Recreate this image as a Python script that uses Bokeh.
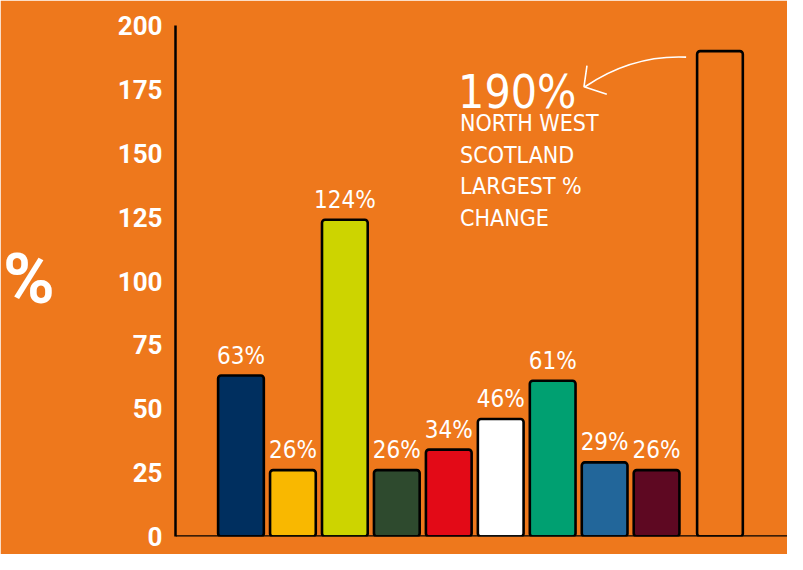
import numpy as np
from bokeh.plotting import figure
from bokeh.models import Range1d, Span, Label, FixedTicker, ColumnDataSource
from bokeh.core.properties import value
from bokeh.embed import file_html
from bokeh.resources import INLINE

# ---- data ----
regions = ["Region 1", "Region 2", "Region 3", "Region 4", "Region 5",
           "Region 6", "Region 7", "Region 8", "Region 9", "North West Scotland"]
changes = [63, 26, 124, 26, 34, 46, 61, 29, 26, 190]
value_labels = ["63%", "26%", "124%", "26%", "34%", "46%", "61%", "29%", "26%", ""]
bar_colors = ["#002F5F", "#F9B800", "#CDD400", "#2E4A2E", "#E30A17",
              "#FFFFFF", "#00A071", "#22669A", "#5E0822", "#EE781C"]
y_ticks = [0, 25, 50, 75, 100, 125, 150, 175, 200]
callout_value = "190%"
callout_lines = ["NORTH WEST", "SCOTLAND", "LARGEST %", "CHANGE"]

BG = "#EE781C"
HAND = "DejaVu Sans Condensed"
W, H = 787, 554
LEFT, TOP = 170, 20
FRAME_W, FRAME_H = W - LEFT, 516
X0, X1 = -1.26, 10.52
Y0, Y1 = 0, 202

# bar positions: evenly spaced, with an extra gap before the highlighted bar
xpos = np.arange(len(changes), dtype=float)
xpos[-1] += 0.22

src = ColumnDataSource(dict(x=xpos, top=changes, color=bar_colors,
                            label=value_labels, region=regions))

p = figure(width=W, height=H, output_backend="svg", toolbar_location=None,
           x_range=Range1d(X0, X1), y_range=Range1d(Y0, Y1),
           min_border_left=LEFT, min_border_top=TOP, min_border_right=0,
           min_border_bottom=H - TOP - FRAME_H)
p.background_fill_color = BG
p.border_fill_color = BG
p.outline_line_color = BG
p.outline_line_width = 2
p.grid.visible = False
p.xaxis.visible = False

p.vbar(x="x", top="top", bottom=0, width=0.88, source=src,
       fill_color="color", line_color="black", line_width=2.6,
       border_radius=3)

p.text(x="x", y="top", text="label", source=src, text_align="center",
       text_baseline="alphabetic", y_offset=-20, text_color="white",
       text_font=value(HAND), text_font_size="24px")

ax = p.yaxis[0]
ax.ticker = FixedTicker(ticks=y_ticks)
ax.bounds = (0, 200)
ax.axis_line_color = "black"
ax.axis_line_width = 2.5
ax.major_tick_line_color = None
ax.minor_tick_line_color = None
ax.major_tick_out = 0
ax.major_tick_in = 0
ax.major_label_standoff = 13
ax.major_label_text_color = "white"
ax.major_label_text_font = "Roboto"
ax.major_label_text_font_style = "bold"
ax.major_label_text_font_size = "26px"
ax.axis_label = "%"
ax.axis_label_orientation = "horizontal"
ax.axis_label_standoff = 60
ax.axis_label_text_color = "white"
ax.axis_label_text_font = "Roboto"
ax.axis_label_text_font_style = "bold"
ax.axis_label_text_font_size = "70px"

p.add_layout(Span(location=0, dimension="width", line_color="black", line_width=2.5))


# helpers: annotation positions -> data units
def dx(px):
    return (px - 236) / 52.4


def dy(py):
    return (560 - py) / 2.675


# callout
p.add_layout(Label(x=dx(455), y=dy(95), text=callout_value, text_color="white",
                   text_font=HAND, text_font_size="46px",
                   text_baseline="alphabetic"))
for i, line in enumerate(callout_lines):
    p.add_layout(Label(x=dx(457), y=dy(127 + i * 33), text=line, text_color="white",
                       text_font=HAND, text_font_size="23px",
                       text_baseline="alphabetic"))

# arrow
p.bezier(x0=[dx(685)], y0=[dy(58)], x1=[dx(583)], y1=[dy(89)],
         cx0=[dx(640)], cy0=[dy(56)], cx1=[dx(607)], cy1=[dy(72)],
         line_color="white", line_width=1.6)
p.line(x=[dx(585), dx(582), dx(605)], y=[dy(67), dy(89), dy(97)],
       line_color="white", line_width=1.6)

open("out.html", "w").write(file_html(p, INLINE))
